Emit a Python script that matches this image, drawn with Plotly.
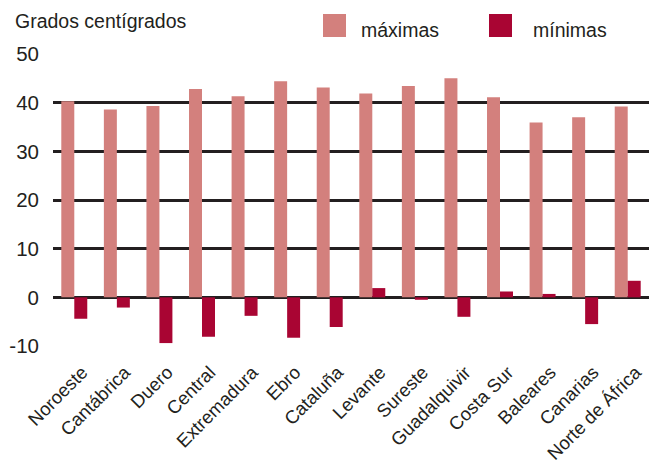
import plotly.graph_objects as go

regiones = ["Noroeste", "Cantábrica", "Duero", "Central", "Extremadura", "Ebro",
            "Cataluña", "Levante", "Sureste", "Guadalquivir", "Costa Sur",
            "Baleares", "Canarias", "Norte de África"]
maximas = [40.3, 38.6, 39.3, 42.8, 41.3, 44.4, 43.1, 41.9, 43.4, 45.0, 41.1, 35.9, 37.0, 39.2]
minimas = [-4.4, -2.1, -9.4, -8.1, -3.8, -8.3, -6.1, 1.9, -0.5, -4.0, 1.2, 0.7, -5.5, 3.4]
y_ticks = [-10, 0, 10, 20, 30, 40, 50]
y_tick_labels = ["-10", "0", "10", "20", "30", "40", "50"]

C_MAX = "#D3807D"
C_MIN = "#A90533"
TXT = "#231F20"
FONT = "Liberation Sans"

W, H = 649, 463
L, R, T, B = 53, 0, 54, 117
PW, PH = W - L - R, H - T - B

def px(x):
    return (x - L) / PW

def py(y):
    return (H - B - y) / PH

fig = go.Figure()
fig.add_trace(go.Bar(x=regiones, y=maximas, name="máximas", marker_color=C_MAX,
                     marker_line_width=0, showlegend=False))
fig.add_trace(go.Bar(x=regiones, y=minimas, name="mínimas", marker_color=C_MIN,
                     marker_line_width=0, showlegend=False))

fig.update_layout(
    width=W, height=H,
    margin=dict(l=L, r=R, t=T, b=B, autoexpand=False),
    paper_bgcolor="white", plot_bgcolor="white",
    barmode="group", bargap=0.39, bargroupgap=0,
    font=dict(family=FONT, color=TXT, size=19),
    xaxis=dict(tickangle=-45, showgrid=False, showline=False, ticks="",
               tickfont=dict(size=18.5, color=TXT), ticklabelstandoff=11,
               ticklabelshift=8, automargin=False),
    yaxis=dict(range=[-10, 50], tickvals=y_ticks, ticktext=y_tick_labels,
               showgrid=True, gridcolor=TXT, gridwidth=3, zeroline=True,
               zerolinecolor=TXT, zerolinewidth=3, showline=False, ticks="",
               tickfont=dict(size=20.5, color=TXT), ticklabelstandoff=13,
               automargin=False),
)

# title and legend
fig.add_annotation(text="Grados centígrados", xref="paper", yref="paper",
                   x=px(13), y=py(21), xanchor="left", yanchor="middle",
                   showarrow=False, font=dict(size=19.5, color=TXT))
for (x0, col, label, tx) in [(323, C_MAX, "máximas", 359), (489, C_MIN, "mínimas", 531)]:
    fig.add_shape(type="rect", xref="paper", yref="paper",
                  x0=px(x0), x1=px(x0 + 23), y0=py(37), y1=py(14),
                  fillcolor=col, line_width=0)
    fig.add_annotation(text=label, xref="paper", yref="paper",
                       x=px(tx), y=py(30), xanchor="left", yanchor="middle",
                       showarrow=False, font=dict(size=19.5, color=TXT))

fig.write_html("out.html", config={"displayModeBar": False},
               post_script="document.body.style.margin='0';")
